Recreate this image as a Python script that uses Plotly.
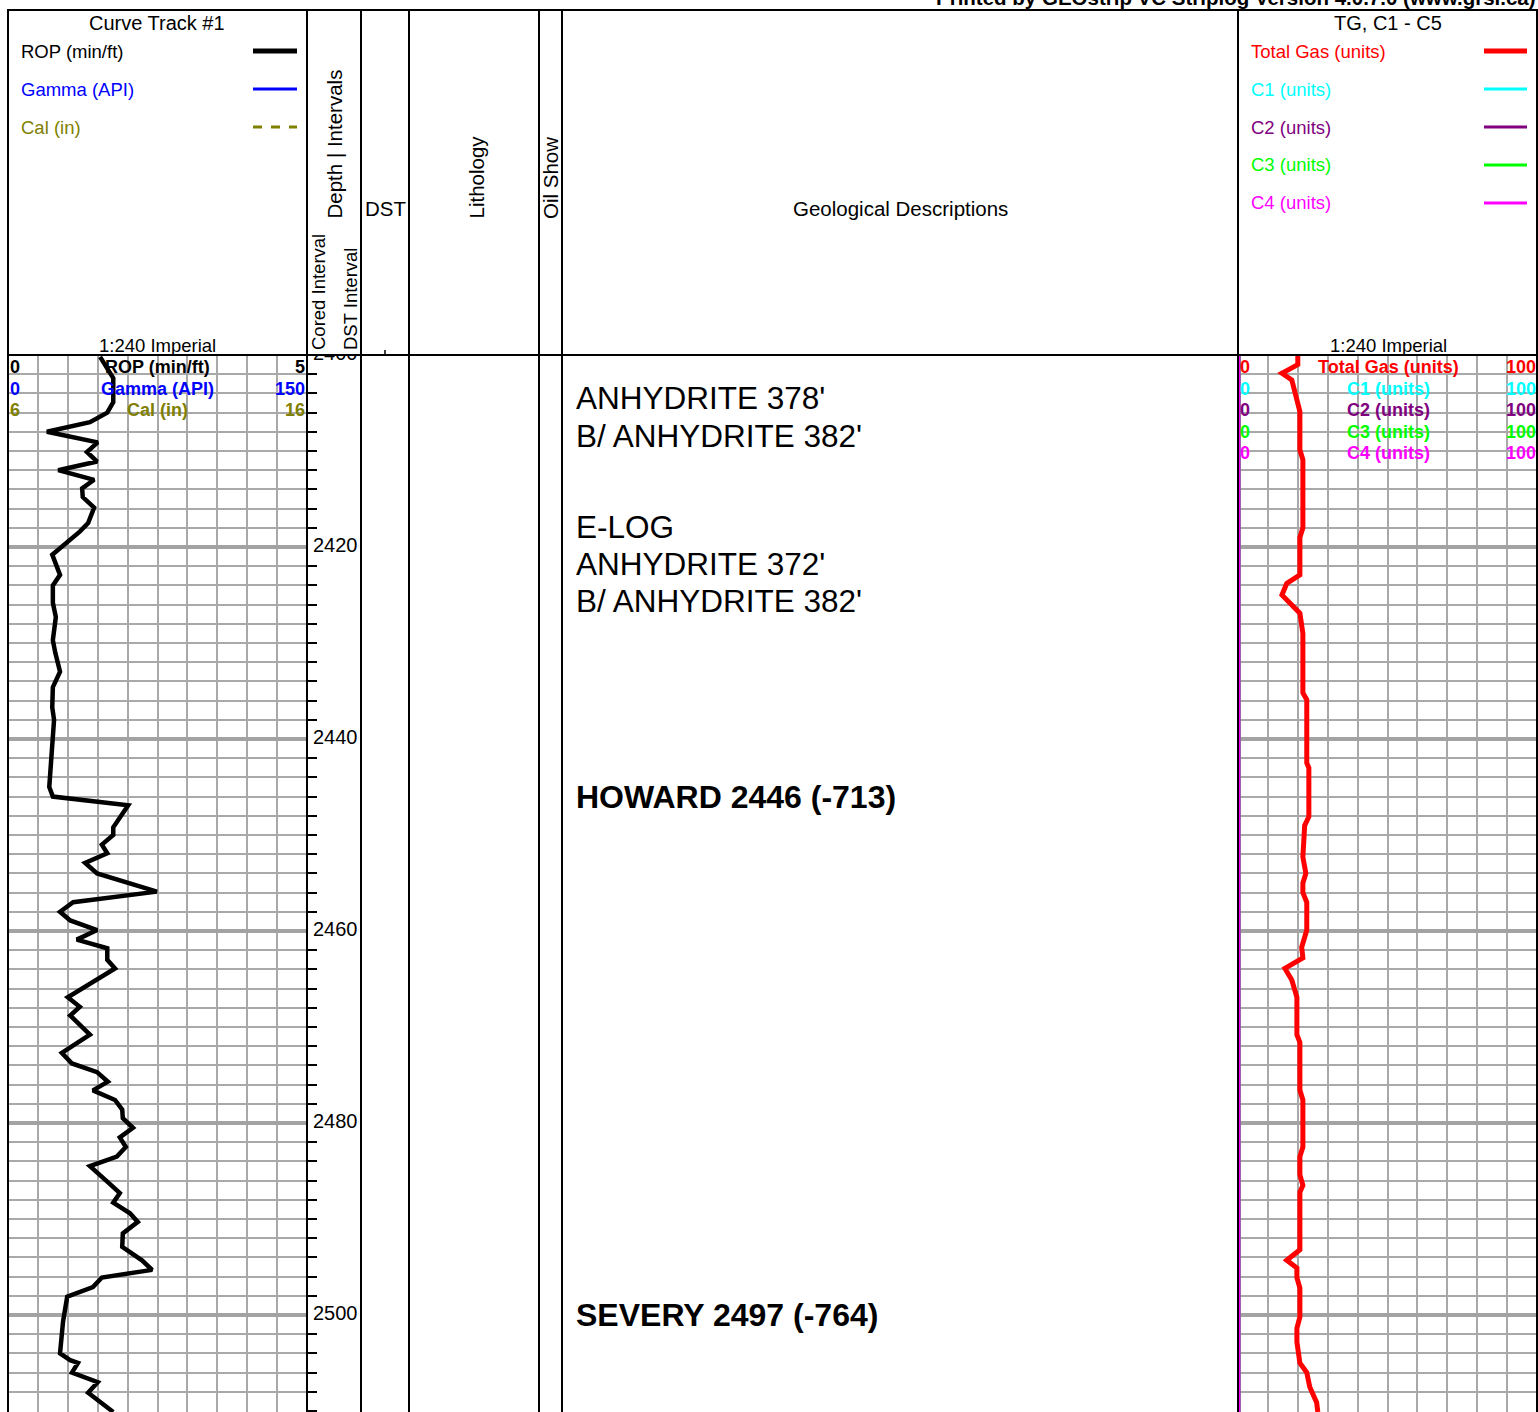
import plotly.graph_objects as go

# ---------------------------------------------------------------- data
# Rate of penetration (min/ft) against measured depth (ft)
rop_depth = [2400.2, 2402.4, 2404.9, 2406.0, 2407.0, 2408.0, 2409.1, 2410.1, 2411.1, 2412.0,
             2413.0, 2413.9, 2414.8, 2415.9, 2417.5, 2418.4, 2420.8, 2422.9, 2424.0, 2425.8,
             2427.3, 2429.7, 2431.0, 2433.0, 2434.6, 2436.7, 2438.0, 2440.1, 2442.9, 2445.0,
             2446.0, 2446.9, 2449.2, 2450.0, 2451.0, 2451.9, 2452.9, 2454.0, 2455.9, 2457.0,
             2458.0, 2458.9, 2459.9, 2460.9, 2461.8, 2463.0, 2463.9, 2466.9, 2467.9, 2468.8,
             2470.8, 2472.7, 2473.8, 2474.7, 2475.7, 2476.6, 2477.6, 2478.6, 2479.5, 2480.5,
             2481.5, 2482.5, 2483.5, 2484.5, 2486.1, 2487.3, 2488.3, 2489.4, 2490.3, 2491.5,
             2492.9, 2494.3, 2495.3, 2496.1, 2497.1, 2498.1, 2500.7, 2504.0, 2504.7, 2505.0,
             2506.0, 2507.0, 2508.1, 2510.1]
rop_value = [1.54, 1.76, 1.76, 1.66, 1.37, 0.65, 1.50, 1.32, 1.49, 0.84,
             1.44, 1.24, 1.25, 1.44, 1.34, 1.20, 0.74, 0.87, 0.75, 0.75,
             0.80, 0.75, 0.79, 0.87, 0.75, 0.74, 0.77, 0.75, 0.72, 0.69,
             0.75, 2.01, 1.76, 1.76, 1.57, 1.66, 1.29, 1.49, 2.49, 1.09,
             0.87, 1.04, 1.49, 1.15, 1.66, 1.66, 1.79, 1.00, 1.20, 1.04,
             1.37, 0.90, 1.07, 1.49, 1.67, 1.42, 1.79, 1.91, 1.92, 2.09,
             1.87, 1.97, 1.82, 1.37, 1.66, 1.87, 1.76, 2.04, 2.17, 1.92,
             1.91, 2.24, 2.41, 1.57, 1.42, 0.99, 0.92, 0.87, 1.04, 1.17,
             1.07, 1.50, 1.34, 1.76]

# Total gas (units) against depth
gas_depth = [2400.0, 2401.0, 2401.9, 2402.6, 2405.9, 2409.9, 2410.9, 2418.0, 2419.0, 2422.9,
             2423.8, 2425.0, 2426.9, 2429.0, 2435.2, 2435.9, 2442.5, 2443.0, 2448.1, 2449.0,
             2452.3, 2454.0, 2455.0, 2456.0, 2457.0, 2459.9, 2461.7, 2462.8, 2463.9, 2465.1,
             2466.9, 2470.8, 2471.6, 2476.6, 2477.6, 2482.5, 2483.5, 2485.4, 2486.5, 2487.2,
             2493.2, 2494.3, 2495.1, 2496.1, 2497.2, 2500.2, 2501.4, 2502.8, 2505.0, 2506.0,
             2507.5, 2509.1, 2510.1]
total_gas = [20.0, 20.0, 14.7, 18.0, 20.7, 20.7, 21.7, 21.7, 20.7, 20.7,
             16.3, 14.7, 20.7, 21.7, 21.7, 23.0, 23.0, 23.7, 23.7, 22.3,
             21.7, 22.7, 21.7, 21.7, 23.0, 23.0, 21.3, 21.7, 15.7, 18.0,
             19.7, 19.7, 20.7, 20.7, 21.7, 21.7, 20.7, 20.7, 21.7, 20.7,
             20.7, 16.3, 19.7, 19.7, 20.7, 20.7, 19.7, 19.7, 20.7, 23.0,
             24.0, 26.3, 26.7]

# Chromatograph components, all reading zero over the interval
c_depth = [2400.0, 2510.1]
c1_gas = [0, 0]
c2_gas = [0, 0]
c3_gas = [0, 0]
c4_gas = [0, 0]

depth_labels = [2400, 2420, 2440, 2460, 2480, 2500]

desc_depth = [2404.5, 2408.4, 2417.9, 2421.8, 2425.6, 2446.0, 2500.0]
desc_text = ["ANHYDRITE 378'", "B/ ANHYDRITE 382'", "E-LOG", "ANHYDRITE 372'",
             "B/ ANHYDRITE 382'", "HOWARD 2446 (-713)", "SEVERY 2497 (-764)"]
desc_bold = [False, False, False, False, False, True, True]

TOP_DEPTH = 2400.0
BOTTOM_DEPTH = 2510.104

# ---------------------------------------------------------------- page geometry
W, H = 1538, 1412
FONT = "Liberation Sans, Arial, Helvetica, sans-serif"
GRID = "#a9a9a9"
OLIVE = "#808000"
PURPLE = "#800080"


def px(x):
    return x / W


def py(y):
    return 1 - y / H


HEADER_TOP, HEADER_BOT = 10, 355
X_LEFT, X_T1, X_DEPTH, X_DST, X_LITH, X_OIL, X_DESC, X_RIGHT = 8, 307, 361, 409, 539, 562, 1238, 1537

# 20 ft lines are heavy; the 2 ft lines in between carry the small depth ticks
major_depths = [2420, 2440, 2460, 2480, 2500]
minor_depths = [d for d in range(2402, 2512, 2) if d % 20 != 0]

fig = go.Figure()

for vals, col in [(c1_gas, "#00ffff"), (c2_gas, PURPLE), (c3_gas, "#00ff00"), (c4_gas, "#ff00ff")]:
    fig.add_trace(go.Scatter(x=vals, y=c_depth, mode="lines", xaxis="x2", yaxis="y",
                             line=dict(color=col, width=5), hoverinfo="skip", cliponaxis=False))

fig.add_trace(go.Scatter(x=total_gas, y=gas_depth, mode="lines", xaxis="x2", yaxis="y",
                         line=dict(color="#ff0000", width=5), hoverinfo="skip"))

fig.add_trace(go.Scatter(x=rop_value, y=rop_depth, mode="lines", xaxis="x", yaxis="y",
                         line=dict(color="black", width=4.5), hoverinfo="skip"))

fig.add_trace(go.Scatter(x=[0.11] * len(depth_labels), y=depth_labels, mode="text",
                         text=[str(d) for d in depth_labels], textposition="middle right",
                         textfont=dict(family=FONT, size=20, color="black"),
                         xaxis="x3", yaxis="y2", hoverinfo="skip", cliponaxis=True))

ydom = [0, py(HEADER_BOT)]
yrange = [BOTTOM_DEPTH, TOP_DEPTH]

track_x = dict(showgrid=True, gridcolor=GRID, gridwidth=2, zeroline=False,
               showticklabels=False, ticks="", showline=False, anchor="y", fixedrange=True)

annotations = []


def note(text, x, y, size, color="black", xanchor="left", yanchor="middle",
         bold=False, angle=0, xref="paper", yref="paper"):
    annotations.append(dict(
        text=text, x=x, y=y, xref=xref, yref=yref, xanchor=xanchor, yanchor=yanchor,
        showarrow=False, textangle=angle, borderpad=0,
        font=dict(family=FONT, size=size, color=color, weight="bold" if bold else "normal")))


# banner along the top edge
note("Printed by GEOstrip VC Striplog Version 4.0.7.0 (www.grsi.ca)", px(1537), py(10), 20.5,
     xanchor="right", yanchor="bottom", bold=True)

# curve track header
note("Curve Track #1", px(157), py(23), 20, xanchor="center")
note("ROP (min/ft)", px(20), py(51), 18.5)
note("Gamma (API)", px(20), py(89), 18.5, color="#0000ff")
note("Cal (in)", px(20), py(127), 18.5, color=OLIVE)
note("1:240 Imperial", px(157), py(345), 18.5, xanchor="center")

# narrow column headers
note("Depth | Intervals", px(334), py(220), 20.5, xanchor="center", yanchor="bottom", angle=-90)
note("Cored Interval", px(318), py(351), 18.5, xanchor="center", yanchor="bottom", angle=-90)
note("DST Interval", px(350), py(351), 18.5, xanchor="center", yanchor="bottom", angle=-90)
note("DST", px(385), py(209), 20.5, xanchor="center")
note("Lithology", px(476), py(220), 20.5, xanchor="center", yanchor="bottom", angle=-90)
note("Oil Show", px(551), py(220), 20.5, xanchor="center", yanchor="bottom", angle=-90)
note("Geological Descriptions", px(900), py(209), 20.5, xanchor="center")

# gas track header
note("TG, C1 - C5", px(1388), py(23), 20, xanchor="center")
gas_legend = [("Total Gas (units)", "#ff0000"), ("C1 (units)", "#00ffff"), ("C2 (units)", PURPLE),
              ("C3 (units)", "#00ff00"), ("C4 (units)", "#ff00ff")]
for i, (lab, col) in enumerate(gas_legend):
    note(lab, px(1250), py(51 + 38 * i), 18.5, color=col)
note("1:240 Imperial", px(1388), py(345), 18.5, xanchor="center")

# scale captions inside the tracks
left_scales = [("0", "ROP (min/ft)", "5", "black"), ("0", "Gamma (API)", "150", "#0000ff"),
               ("6", "Cal (in)", "16", OLIVE)]
for i, (lo, lab, hi, col) in enumerate(left_scales):
    yy = py(367 + 21.5 * i)
    note(lo, px(9), yy, 18, color=col, bold=True)
    note(lab, px(157), yy, 18, color=col, bold=True, xanchor="center")
    note(hi, px(306), yy, 18, color=col, bold=True, xanchor="right")

for i, (lab, col) in enumerate(gas_legend):
    yy = py(367 + 21.6 * i)
    note("0", px(1239), yy, 18, color=col, bold=True)
    note(lab, px(1388), yy, 18, color=col, bold=True, xanchor="center")
    note("100", px(1537), yy, 18, color=col, bold=True, xanchor="right")

# geological descriptions placed at their depths
for d, t, b in zip(desc_depth, desc_text, desc_bold):
    note(t, px(575), d, 32 if b else 31.5, bold=b, yref="y")

shapes = []


def seg(x0, y0, x1, y1, color="black", width=2, dash="solid"):
    shapes.append(dict(type="line", xref="paper", yref="paper", x0=px(x0), y0=py(y0),
                       x1=px(x1), y1=py(y1), layer="above",
                       line=dict(color=color, width=width, dash=dash)))


# frame and column separators
seg(X_LEFT - 1, HEADER_TOP, X_RIGHT + 1, HEADER_TOP)
seg(X_LEFT - 1, HEADER_BOT, X_RIGHT + 1, HEADER_BOT)
for xv in [X_LEFT, X_T1, X_DEPTH, X_DST, X_LITH, X_OIL, X_DESC, X_RIGHT]:
    seg(xv, HEADER_TOP, xv, H + 2)
seg(385, HEADER_BOT - 5, 385, HEADER_BOT, width=1.5)

# legend swatches
seg(253, 51, 297, 51, color="black", width=5)
seg(253, 89, 297, 89, color="#0000ff", width=3)
seg(253, 127, 297, 127, color=OLIVE, width=3, dash="dash")
seg(1484, 51, 1527, 51, color="#ff0000", width=5)
for i, (_, col) in enumerate(gas_legend[1:]):
    seg(1484, 89 + 38 * i, 1527, 89 + 38 * i, color=col, width=3)

fig.update_layout(
    width=W, height=H, autosize=False,
    margin=dict(l=0, r=0, t=0, b=0, pad=0),
    paper_bgcolor="white", plot_bgcolor="white", showlegend=False,
    xaxis=dict(domain=[px(X_LEFT), px(X_T1)], range=[0, 5], tick0=0, dtick=0.5, **track_x),
    xaxis2=dict(domain=[px(X_DESC), px(X_RIGHT)], range=[0, 100], tick0=0, dtick=10, **track_x),
    xaxis3=dict(domain=[px(X_T1), px(X_DEPTH)], range=[0, 1], visible=False, anchor="y2",
                fixedrange=True),
    yaxis=dict(domain=ydom, range=yrange, anchor="x", side="right",
               tickmode="array", tickvals=major_depths,
               showgrid=True, gridcolor="#a3a3a3", gridwidth=3.5,
               ticks="", showticklabels=False, zeroline=False, showline=False, fixedrange=True,
               minor=dict(tickmode="array", tickvals=minor_depths, showgrid=True,
                          gridcolor=GRID, gridwidth=2,
                          ticks="outside", ticklen=9, tickwidth=1.5, tickcolor="black")),
    yaxis2=dict(domain=ydom, range=yrange, anchor="x3", visible=False, showgrid=False,
                fixedrange=True),
    annotations=annotations,
    shapes=shapes,
)

fig.write_html("out.html")
